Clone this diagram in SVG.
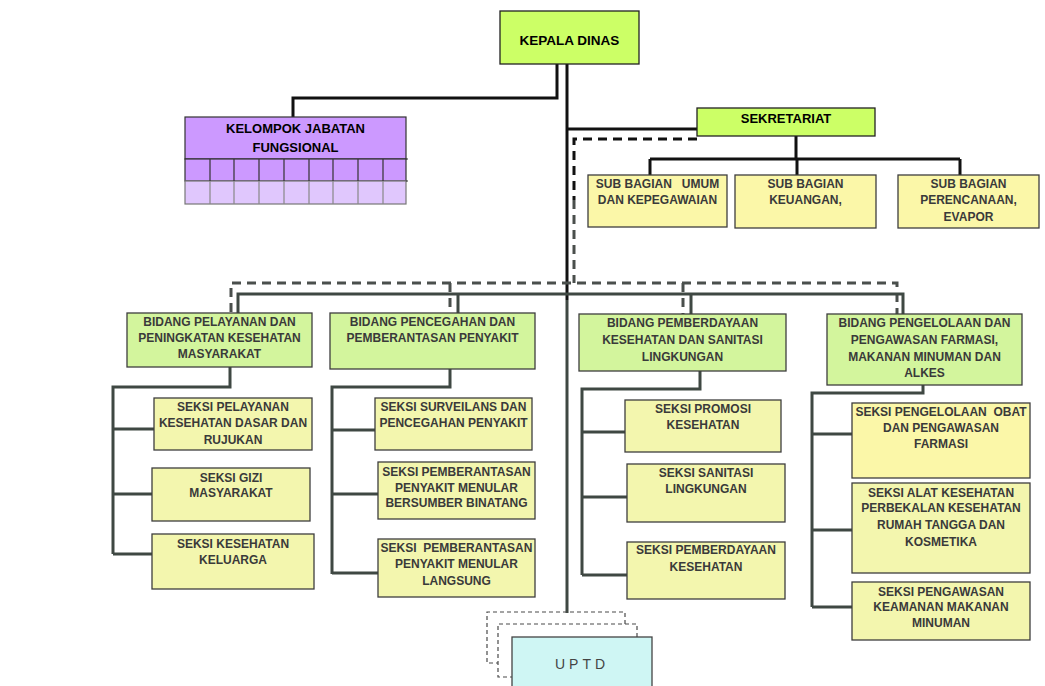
<svg xmlns="http://www.w3.org/2000/svg" width="1045" height="686" viewBox="0 0 1045 686">
<style>
text{font-family:"Liberation Sans",Arial,sans-serif;font-weight:bold;text-anchor:middle;white-space:pre}
.t{font-size:12px;fill:#3a3a3a}
.top{font-size:13.5px;fill:#000}
.box{stroke:#3e3e3e;stroke-width:1.3}
.lime{fill:#ccff66;stroke:#222}
.bid{fill:#d3f59d}
.sek{fill:#f3f6ae}
.sub{fill:#fbf7a8}
.ln{fill:none;stroke:#111;stroke-width:3}
.lo{fill:none;stroke:#3f4843;stroke-width:3}
.ds{fill:none;stroke:#111;stroke-width:3;stroke-dasharray:9 6}
.dl{fill:none;stroke:#4a4f4c;stroke-width:3;stroke-dasharray:9 6}
.du{fill:none;stroke:#4a4a4a;stroke-width:1.2;stroke-dasharray:4 3}
</style>
<rect width="1045" height="686" fill="#ffffff"/>
<g id="connectors">
<path class="ln" d="M557,64 V98 H293 V118"/>
<path class="ln" d="M567,64 V300"/>
<path class="lo" d="M567,300 V613"/>
<path class="ln" d="M567,129 H697"/>
<path class="ds" d="M697,139 H574 V200"/>
<path class="dl" d="M574,200 V283"/>
<path class="ln" d="M796,136 V159 M650,159 H960 M650,159 V175 M797,159 V175 M960,159 V175"/>
<path class="dl" d="M231,312 V283 H897 V314 M450,283 V312 M683,283 V314"/>
<path class="lo" d="M238,313 V294 H903 V314 M458,294 V313 M691,294 V314"/>
<path class="lo" d="M230,367 V387 H113 V554 M113,429 H154 M113,494 H152 M113,554 H152"/>
<path class="lo" d="M450,369 V387 H332 V574 M332,430 H375 M332,494 H378 M332,573 H378"/>
<path class="lo" d="M700,371 V389 H582 V575 M582,432 H625 M582,497 H627 M582,575 H627"/>
<path class="lo" d="M923,385 V393 H812 V607 M812,434 H852 M812,530 H852 M812,607 H852"/>
<path class="du" d="M625,624 V612 H487 V663 H498"/>
<path class="du" d="M637,637 V624 H498 V677 H512"/>
</g>
<g id="kepala-dinas">
<rect class="box lime" x="500" y="11" width="139" height="53"/>
<text class="top" x="569.5" y="45">KEPALA DINAS</text>
</g>
<g id="kelompok-jabatan-fungsional">
<rect x="185" y="117" width="221" height="42" fill="#cc99ff" stroke="#333" stroke-width="1.2"/>
<rect x="185" y="159" width="221" height="22" fill="#cc99ff" stroke="#333" stroke-width="1.2"/>
<rect x="185" y="181" width="221" height="23" fill="#e0c7fd" stroke="#777" stroke-width="1.2"/>
<path d="M210,159 V181 M234,159 V181 M259,159 V181 M284,159 V181 M309,159 V181 M333,159 V181 M358,159 V181 M383,159 V181" stroke="#333" stroke-width="1.2"/>
<path d="M210,181 V204 M234,181 V204 M259,181 V204 M284,181 V204 M309,181 V204 M333,181 V204 M358,181 V204 M383,181 V204" stroke="#888" stroke-width="1.2"/>
<path d="M406,159 H408 M406,181 H408" stroke="#333" stroke-width="1.2"/>
<text class="top" x="295.5" y="133" style="font-size:13px">KELOMPOK JABATAN</text>
<text class="top" x="295.5" y="152" style="font-size:13px">FUNGSIONAL</text>
</g>
<g id="sekretariat">
<rect class="box lime" x="697" y="108" width="178" height="28"/>
<text class="top" x="786" y="123" style="font-size:13px">SEKRETARIAT</text>
</g>
<g id="sub-umum">
<rect class="box sub" x="588" y="175" width="139" height="52"/>
<text class="t" x="657.5" y="188">SUB BAGIAN   UMUM</text>
<text class="t" x="657.5" y="204">DAN KEPEGAWAIAN</text>
</g>
<g id="sub-keuangan">
<rect class="box sub" x="735" y="175" width="141" height="53"/>
<text class="t" x="805.5" y="188">SUB BAGIAN</text>
<text class="t" x="805.5" y="204">KEUANGAN,</text>
</g>
<g id="sub-perencanaan">
<rect class="box sub" x="898" y="175" width="141" height="53"/>
<text class="t" x="968.5" y="188">SUB BAGIAN</text>
<text class="t" x="968.5" y="204">PERENCANAAN,</text>
<text class="t" x="968.5" y="221">EVAPOR</text>
</g>
<g id="bidang-pelayanan">
<rect class="box bid" x="127" y="313" width="185" height="54"/>
<text class="t" x="219.5" y="326">BIDANG PELAYANAN DAN</text>
<text class="t" x="219.5" y="342">PENINGKATAN KESEHATAN</text>
<text class="t" x="219.5" y="358">MASYARAKAT</text>
</g>
<g id="bidang-pencegahan">
<rect class="box bid" x="330" y="313" width="205" height="56"/>
<text class="t" x="432.5" y="326">BIDANG PENCEGAHAN DAN</text>
<text class="t" x="432.5" y="342">PEMBERANTASAN PENYAKIT</text>
</g>
<g id="bidang-pemberdayaan">
<rect class="box bid" x="579" y="314" width="207" height="57"/>
<text class="t" x="682.5" y="327">BIDANG PEMBERDAYAAN</text>
<text class="t" x="682.5" y="344">KESEHATAN DAN SANITASI</text>
<text class="t" x="682.5" y="361">LINGKUNGAN</text>
</g>
<g id="bidang-farmasi">
<rect class="box bid" x="827" y="314" width="195" height="71"/>
<text class="t" x="924.5" y="327">BIDANG PENGELOLAAN DAN</text>
<text class="t" x="924.5" y="344">PENGAWASAN FARMASI,</text>
<text class="t" x="924.5" y="361">MAKANAN MINUMAN DAN</text>
<text class="t" x="924.5" y="377">ALKES</text>
</g>
<g id="seksi-pelayanan-dasar">
<rect class="box sek" x="154" y="398" width="158" height="52"/>
<text class="t" x="233" y="411">SEKSI PELAYANAN</text>
<text class="t" x="233" y="427">KESEHATAN DASAR DAN</text>
<text class="t" x="233" y="444">RUJUKAN</text>
</g>
<g id="seksi-gizi">
<rect class="box sek" x="152" y="468" width="158" height="53"/>
<text class="t" x="231" y="482">SEKSI GIZI</text>
<text class="t" x="231" y="497">MASYARAKAT</text>
</g>
<g id="seksi-keluarga">
<rect class="box sek" x="152" y="534" width="162" height="55"/>
<text class="t" x="233" y="548">SEKSI KESEHATAN</text>
<text class="t" x="233" y="564">KELUARGA</text>
</g>
<g id="seksi-surveilans">
<rect class="box sek" x="375" y="398" width="157" height="52"/>
<text class="t" x="453.5" y="411">SEKSI SURVEILANS DAN</text>
<text class="t" x="453.5" y="427">PENCEGAHAN PENYAKIT</text>
</g>
<g id="seksi-p2-binatang">
<rect class="box sek" x="378" y="462" width="157" height="57"/>
<text class="t" x="456.5" y="476">SEKSI PEMBERANTASAN</text>
<text class="t" x="456.5" y="492">PENYAKIT MENULAR</text>
<text class="t" x="456.5" y="507">BERSUMBER BINATANG</text>
</g>
<g id="seksi-p2-langsung">
<rect class="box sek" x="378" y="539" width="157" height="58"/>
<text class="t" x="456.5" y="552">SEKSI  PEMBERANTASAN</text>
<text class="t" x="456.5" y="568">PENYAKIT MENULAR</text>
<text class="t" x="456.5" y="585">LANGSUNG</text>
</g>
<g id="seksi-promosi">
<rect class="box sek" x="625" y="400" width="156" height="52"/>
<text class="t" x="703" y="413">SEKSI PROMOSI</text>
<text class="t" x="703" y="429">KESEHATAN</text>
</g>
<g id="seksi-sanitasi">
<rect class="box sek" x="627" y="464" width="158" height="58"/>
<text class="t" x="706" y="477">SEKSI SANITASI</text>
<text class="t" x="706" y="493">LINGKUNGAN</text>
</g>
<g id="seksi-pemberdayaan">
<rect class="box sek" x="627" y="542" width="158" height="57"/>
<text class="t" x="706" y="554">SEKSI PEMBERDAYAAN</text>
<text class="t" x="706" y="571">KESEHATAN</text>
</g>
<g id="seksi-obat">
<rect class="box sub" x="852" y="403" width="178" height="75"/>
<text class="t" x="941" y="416">SEKSI PENGELOLAAN  OBAT</text>
<text class="t" x="941" y="432">DAN PENGAWASAN</text>
<text class="t" x="941" y="448">FARMASI</text>
</g>
<g id="seksi-alkes">
<rect class="box sek" x="852" y="483" width="178" height="90"/>
<text class="t" x="941" y="497">SEKSI ALAT KESEHATAN</text>
<text class="t" x="941" y="512">PERBEKALAN KESEHATAN</text>
<text class="t" x="941" y="529">RUMAH TANGGA DAN</text>
<text class="t" x="941" y="546">KOSMETIKA</text>
</g>
<g id="seksi-keamanan-makanan">
<rect class="box sek" x="852" y="582" width="178" height="58"/>
<text class="t" x="941" y="596">SEKSI PENGAWASAN</text>
<text class="t" x="941" y="611">KEAMANAN MAKANAN</text>
<text class="t" x="941" y="627">MINUMAN</text>
</g>
<g id="uptd">
<rect x="512" y="637" width="140" height="60" fill="#cff6f4" stroke="#444" stroke-width="1.3"/>
<text x="582" y="669" style="font-weight:normal;font-size:14px;fill:#444;letter-spacing:4px">UPTD</text>
</g>
</svg>
